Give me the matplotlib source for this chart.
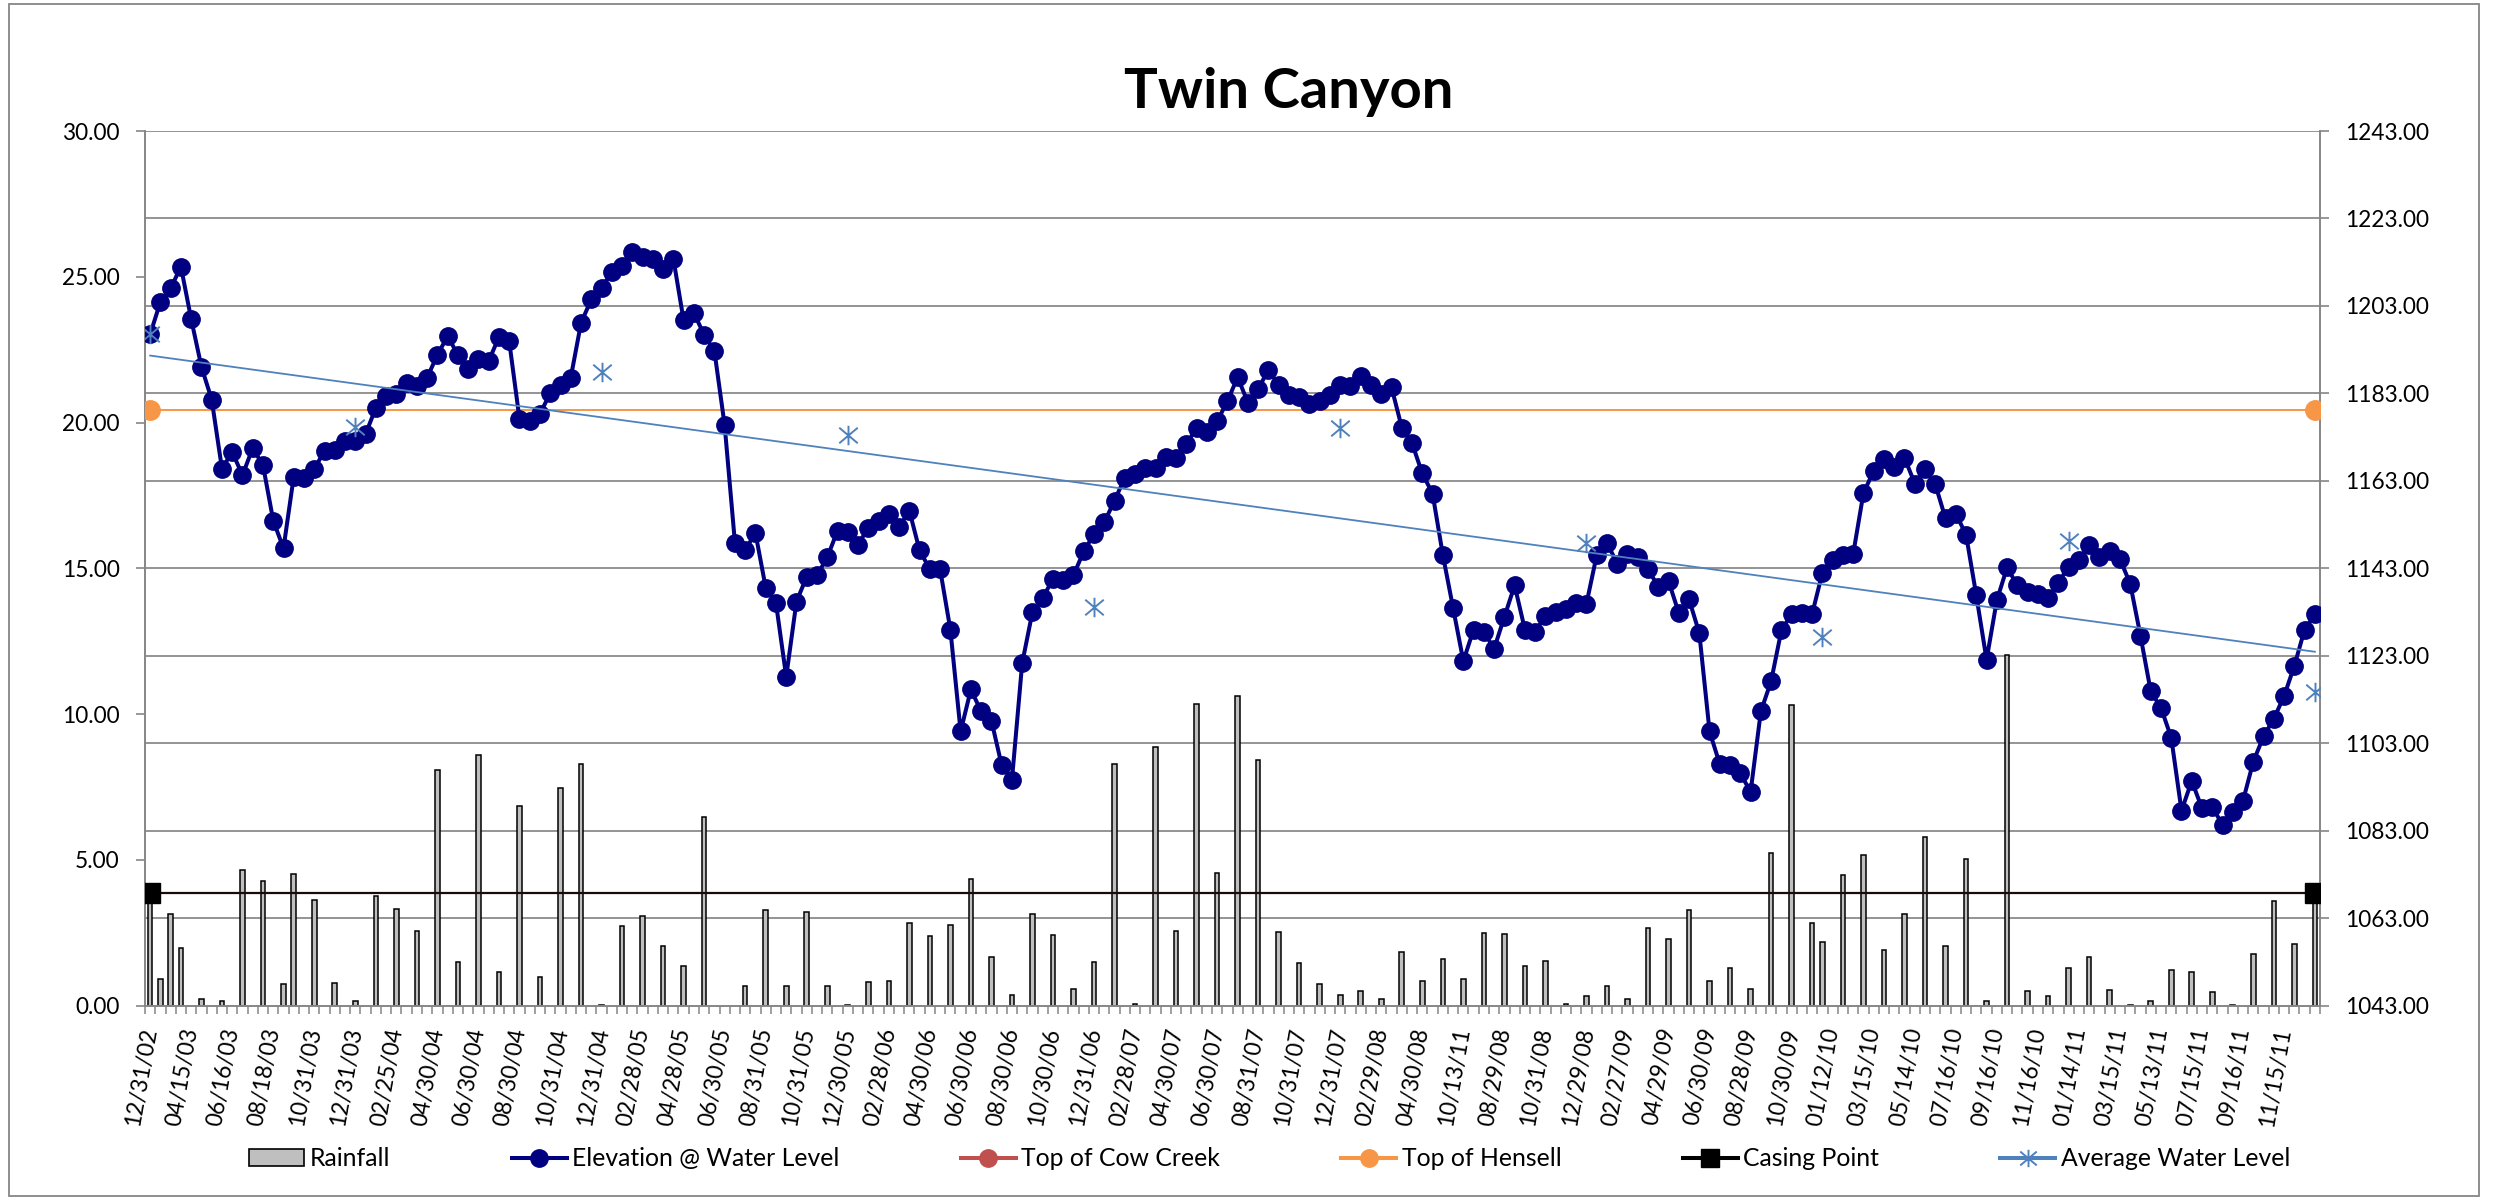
import numpy as np
import matplotlib
matplotlib.use("Agg")
import matplotlib.pyplot as plt
from matplotlib.lines import Line2D
from matplotlib.patches import Patch, Rectangle
from matplotlib.path import Path

plt.rcParams['font.family'] = ['Lato', 'DejaVu Sans']

# ---------------- data ----------------
title = "Twin Canyon"

date_labels = ["12/31/02", "04/15/03", "06/16/03", "08/18/03", "10/31/03", "12/31/03", "02/25/04",
               "04/30/04", "06/30/04", "08/30/04", "10/31/04", "12/31/04", "02/28/05", "04/28/05",
               "06/30/05", "08/31/05", "10/31/05", "12/30/05", "02/28/06", "04/30/06", "06/30/06",
               "08/30/06", "10/30/06", "12/31/06", "02/28/07", "04/30/07", "06/30/07", "08/31/07",
               "10/31/07", "12/31/07", "02/29/08", "04/30/08", "10/13/11", "08/29/08", "10/31/08",
               "12/29/08", "02/27/09", "04/29/09", "06/30/09", "08/28/09", "10/30/09", "01/12/10",
               "03/15/10", "05/14/10", "07/16/10", "09/16/10", "11/16/10", "01/14/11", "03/15/11",
               "05/13/11", "07/15/11", "09/16/11", "11/15/11"]
label_every = 4

elevation = [
    1196.5, 1203.9, 1207.0, 1212.0, 1200.0, 1189.1, 1181.6, 1165.8, 1169.6, 1164.3,
    1170.5, 1166.6, 1153.9, 1147.6, 1164.0, 1163.6, 1165.7, 1169.9, 1170.1, 1172.2,
    1172.2, 1173.7, 1179.7, 1182.5, 1182.9, 1185.4, 1184.7, 1186.6, 1191.8, 1196.1,
    1191.8, 1188.5, 1190.9, 1190.4, 1195.9, 1194.9, 1177.2, 1176.6, 1178.3, 1183.1,
    1184.9, 1186.6, 1199.1, 1204.5, 1207.1, 1210.8, 1212.2, 1215.3, 1214.1, 1213.7,
    1211.4, 1213.8, 1199.7, 1201.4, 1196.4, 1192.7, 1175.7, 1148.9, 1147.2, 1151.1,
    1138.6, 1135.1, 1118.2, 1135.4, 1141.1, 1141.4, 1145.5, 1151.6, 1151.2, 1148.4,
    1152.3, 1153.8, 1155.5, 1152.4, 1156.2, 1147.1, 1142.8, 1142.8, 1129.0, 1105.7,
    1115.3, 1110.3, 1108.2, 1098.0, 1094.6, 1121.3, 1133.0, 1136.3, 1140.5, 1140.3,
    1141.4, 1146.9, 1150.8, 1153.5, 1158.5, 1163.7, 1164.5, 1165.9, 1165.9, 1168.5,
    1168.3, 1171.5, 1175.0, 1174.1, 1176.6, 1181.2, 1186.7, 1180.9, 1184.0, 1188.4,
    1184.9, 1182.6, 1182.1, 1180.6, 1181.2, 1182.7, 1184.9, 1184.7, 1187.0, 1184.9,
    1182.9, 1184.4, 1175.2, 1171.6, 1164.7, 1160.1, 1146.1, 1134.0, 1121.8, 1129.0,
    1128.5, 1124.6, 1131.9, 1139.1, 1129.0, 1128.5, 1132.2, 1133.1, 1133.7, 1135.1,
    1134.9, 1146.0, 1148.8, 1144.1, 1146.3, 1145.5, 1142.8, 1138.8, 1140.1, 1132.8,
    1135.9, 1128.2, 1105.7, 1098.2, 1098.0, 1096.1, 1091.9, 1110.3, 1117.2, 1128.8,
    1132.6, 1132.8, 1132.6, 1142.0, 1144.9, 1146.1, 1146.3, 1160.2, 1165.3, 1168.0,
    1166.2, 1168.3, 1162.4, 1165.7, 1162.2, 1154.4, 1155.5, 1150.7, 1136.8, 1122.1,
    1135.7, 1143.2, 1139.1, 1137.6, 1137.1, 1136.3, 1139.7, 1143.4, 1144.9, 1148.4,
    1145.7, 1147.0, 1145.1, 1139.5, 1127.6, 1114.9, 1111.1, 1104.3, 1087.6, 1094.4,
    1088.1, 1088.4, 1084.4, 1087.3, 1089.9, 1098.8, 1104.6, 1108.6, 1113.8, 1120.7,
    1129.0, 1132.5]

rain_idx = [0, 1, 2, 3, 5, 7, 9, 11, 13, 14, 16, 18, 20, 22, 24, 26, 28, 30, 32, 34,
            36, 38, 40, 42, 44, 46, 48, 50, 52, 54, 58, 60, 62, 64, 66, 68, 70, 72, 74, 76,
            78, 80, 82, 84, 86, 88, 90, 92, 94, 96, 98, 100, 102, 104, 106, 108, 110, 112, 114, 116,
            118, 120, 122, 124, 126, 128, 130, 132, 134, 136, 138, 140, 142, 144, 146, 148, 150, 152, 154, 156,
            158, 160, 162, 163, 165, 167, 169, 171, 173, 175, 177, 179, 181, 183, 185, 187, 189, 191, 193, 195,
            197, 199, 201, 203, 205, 207, 209, 211]
rain_in = [3.6, 0.93, 3.14, 1.99, 0.24, 0.16, 4.65, 4.27, 0.76, 4.51, 3.61, 0.78, 0.17, 3.75, 3.32, 2.56, 8.10, 1.49, 8.59, 1.14,
           6.84, 0.97, 7.46, 8.29, 0.03, 2.75, 3.06, 2.04, 1.35, 6.46, 0.69, 3.28, 0.69, 3.20, 0.66, 0.03, 0.81, 0.85, 2.82, 2.40,
           2.78, 4.34, 1.66, 0.35, 3.14, 2.42, 0.57, 1.49, 8.29, 0.07, 8.88, 2.56, 10.35, 4.54, 10.61, 8.41, 2.54, 1.45, 0.74, 0.35,
           0.52, 0.22, 1.83, 0.85, 1.61, 0.92, 2.49, 2.45, 1.35, 1.54, 0.05, 0.33, 0.67, 0.24, 2.66, 2.28, 3.27, 0.85, 1.31, 0.57,
           5.25, 10.30, 2.83, 2.18, 4.47, 5.17, 1.90, 3.14, 5.77, 2.04, 5.03, 0.16, 12.02, 0.50, 0.33, 1.31, 1.68, 0.55, 0.03, 0.17,
           1.24, 1.16, 0.47, 0.03, 1.78, 3.58, 2.11, 3.9]

avg_idx = [0, 20, 44, 68, 92, 116, 140, 163, 187, 211]
avg_level = [1196.5, 1175.4, 1187.8, 1173.4, 1134.2, 1175.1, 1148.7, 1127.3, 1149.3, 1114.7]

top_of_hensell = 1179.1
casing_point = 1068.8

rain_ticks = [0, 5, 10, 15, 20, 25, 30]
elev_ticks = [1043, 1063, 1083, 1103, 1123, 1143, 1163, 1183, 1203, 1223, 1243]

# ---------------- styles ----------------
NAVY = '#000080'
ORANGE = '#F79646'
RED = '#C0504D'
BLUE = '#4F81BD'
GRAY = '#868686'
BARFILL = '#BFBFBF'
FS = 16.3
LEG_FS = 17.8

star = Path([(0, -1), (0, 1), (-0.95, -0.8), (0.95, 0.8), (-0.95, 0.8), (0.95, -0.8)],
            [Path.MOVETO, Path.LINETO, Path.MOVETO, Path.LINETO, Path.MOVETO, Path.LINETO])

N = len(elevation)
cats = np.arange(N)

fig = plt.figure(figsize=(24.97, 12.01), dpi=100)
fig.patches.append(Rectangle((0.00344, 0.00416), 0.9895, 0.9923, transform=fig.transFigure,
                             fill=False, edgecolor=GRAY, linewidth=1.3))

L, R, B, T = 145 / 2497, 2320 / 2497, 1 - 1005.7 / 1201, 1 - 131 / 1201
ax = fig.add_axes([L, B, R - L, T - B])
ax2 = ax.twinx()

ax.set_xlim(-0.5, N - 0.5)
ax.set_ylim(rain_ticks[0], rain_ticks[-1])
ax2.set_ylim(elev_ticks[0], elev_ticks[-1])

# gridlines (from the secondary axis) drawn behind the bars
for v in elev_ticks[1:]:
    yv = (v - elev_ticks[0]) / (elev_ticks[-1] - elev_ticks[0]) * (rain_ticks[-1] - rain_ticks[0])
    ax.axhline(yv, color=GRAY, linewidth=1.25, zorder=0.5)

ax.bar(rain_idx, rain_in, width=0.45, color=BARFILL, edgecolor='black', linewidth=1.1, zorder=2)

# elevation line
ax2.plot(cats, elevation, color=NAVY, linewidth=2.9, marker='o', markersize=12.5, zorder=4)
# horizontal reference series
ends = np.array([0, N - 1])
ax2.plot(ends, [top_of_hensell] * 2, color=ORANGE, linewidth=1.4, marker='o', markersize=14, zorder=3)
ax2.plot(ends, [casing_point] * 2, color='#1a0a0a', linewidth=1.6, marker='s', markersize=14,
         markerfacecolor='black', markeredgecolor='black', zorder=3)
# average water level markers
ax2.plot(avg_idx, avg_level, linestyle='none', marker=star, markersize=14, markeredgewidth=1.4,
         color=BLUE, zorder=5)
# linear trendline of the average water level
coef = np.polyfit(avg_idx, avg_level, 1)
ax2.plot(ends, np.polyval(coef, ends), color=BLUE, linewidth=1.3, zorder=6)

# axes styling
for a in (ax, ax2):
    for s in a.spines.values():
        s.set_visible(False)
ax.spines['left'].set_visible(True)
ax.spines['bottom'].set_visible(True)
ax2.spines['right'].set_visible(True)
for s in (ax.spines['left'], ax.spines['bottom'], ax2.spines['right']):
    s.set_color(GRAY)
    s.set_linewidth(1.4)

ax.set_yticks(rain_ticks)
ax.set_yticklabels([f"{v:.2f}" for v in rain_ticks])
ax2.set_yticks(elev_ticks)
ax2.set_yticklabels([f"{v:.2f}" for v in elev_ticks])
ax.tick_params(axis='y', direction='out', length=6.2, width=1.2, color=GRAY, labelsize=FS, pad=12)
ax2.tick_params(axis='y', direction='out', length=6.2, width=1.2, color=GRAY, labelsize=FS, pad=12)

lab_pos = np.arange(0, len(date_labels) * label_every, label_every)
ax.set_xticks(lab_pos)
ax.set_xticklabels(date_labels, rotation=80, ha='right', va='center', rotation_mode='anchor')
ax.set_xticks(np.arange(-0.5, N, 1), minor=True)
ax.tick_params(axis='x', which='major', length=0, labelsize=FS, pad=16)
ax.tick_params(axis='x', which='minor', direction='out', length=6, width=1.1, color=GRAY)

fig.text(1289 / 2497, 1 - 108 / 1201, title, ha='center', va='baseline', fontsize=40.5, fontweight='bold')

handles = [
    Patch(facecolor=BARFILL, edgecolor='black', linewidth=1.2),
    Line2D([], [], color=NAVY, linewidth=2.9, marker='o', markersize=12.5),
    Line2D([], [], color=RED, linewidth=2.9, marker='o', markersize=12.5),
    Line2D([], [], color=ORANGE, linewidth=2.9, marker='o', markersize=12.5),
    Line2D([], [], color='black', linewidth=2.9, marker='s', markersize=12.5),
    Line2D([], [], color=BLUE, linewidth=2.9, marker=star, markersize=12.5, markeredgewidth=1.4),
]
names = ["Rainfall", "Elevation @ Water Level", "Top of Cow Creek", "Top of Hensell",
         "Casing Point", "Average Water Level"]
fig.legend(handles, names, loc='center', bbox_to_anchor=(0.5085, 0.035), ncol=6, frameon=False,
           fontsize=LEG_FS, handlelength=2.23, handletextpad=0.22, columnspacing=4.9)

fig.savefig('out.png', dpi=100)
